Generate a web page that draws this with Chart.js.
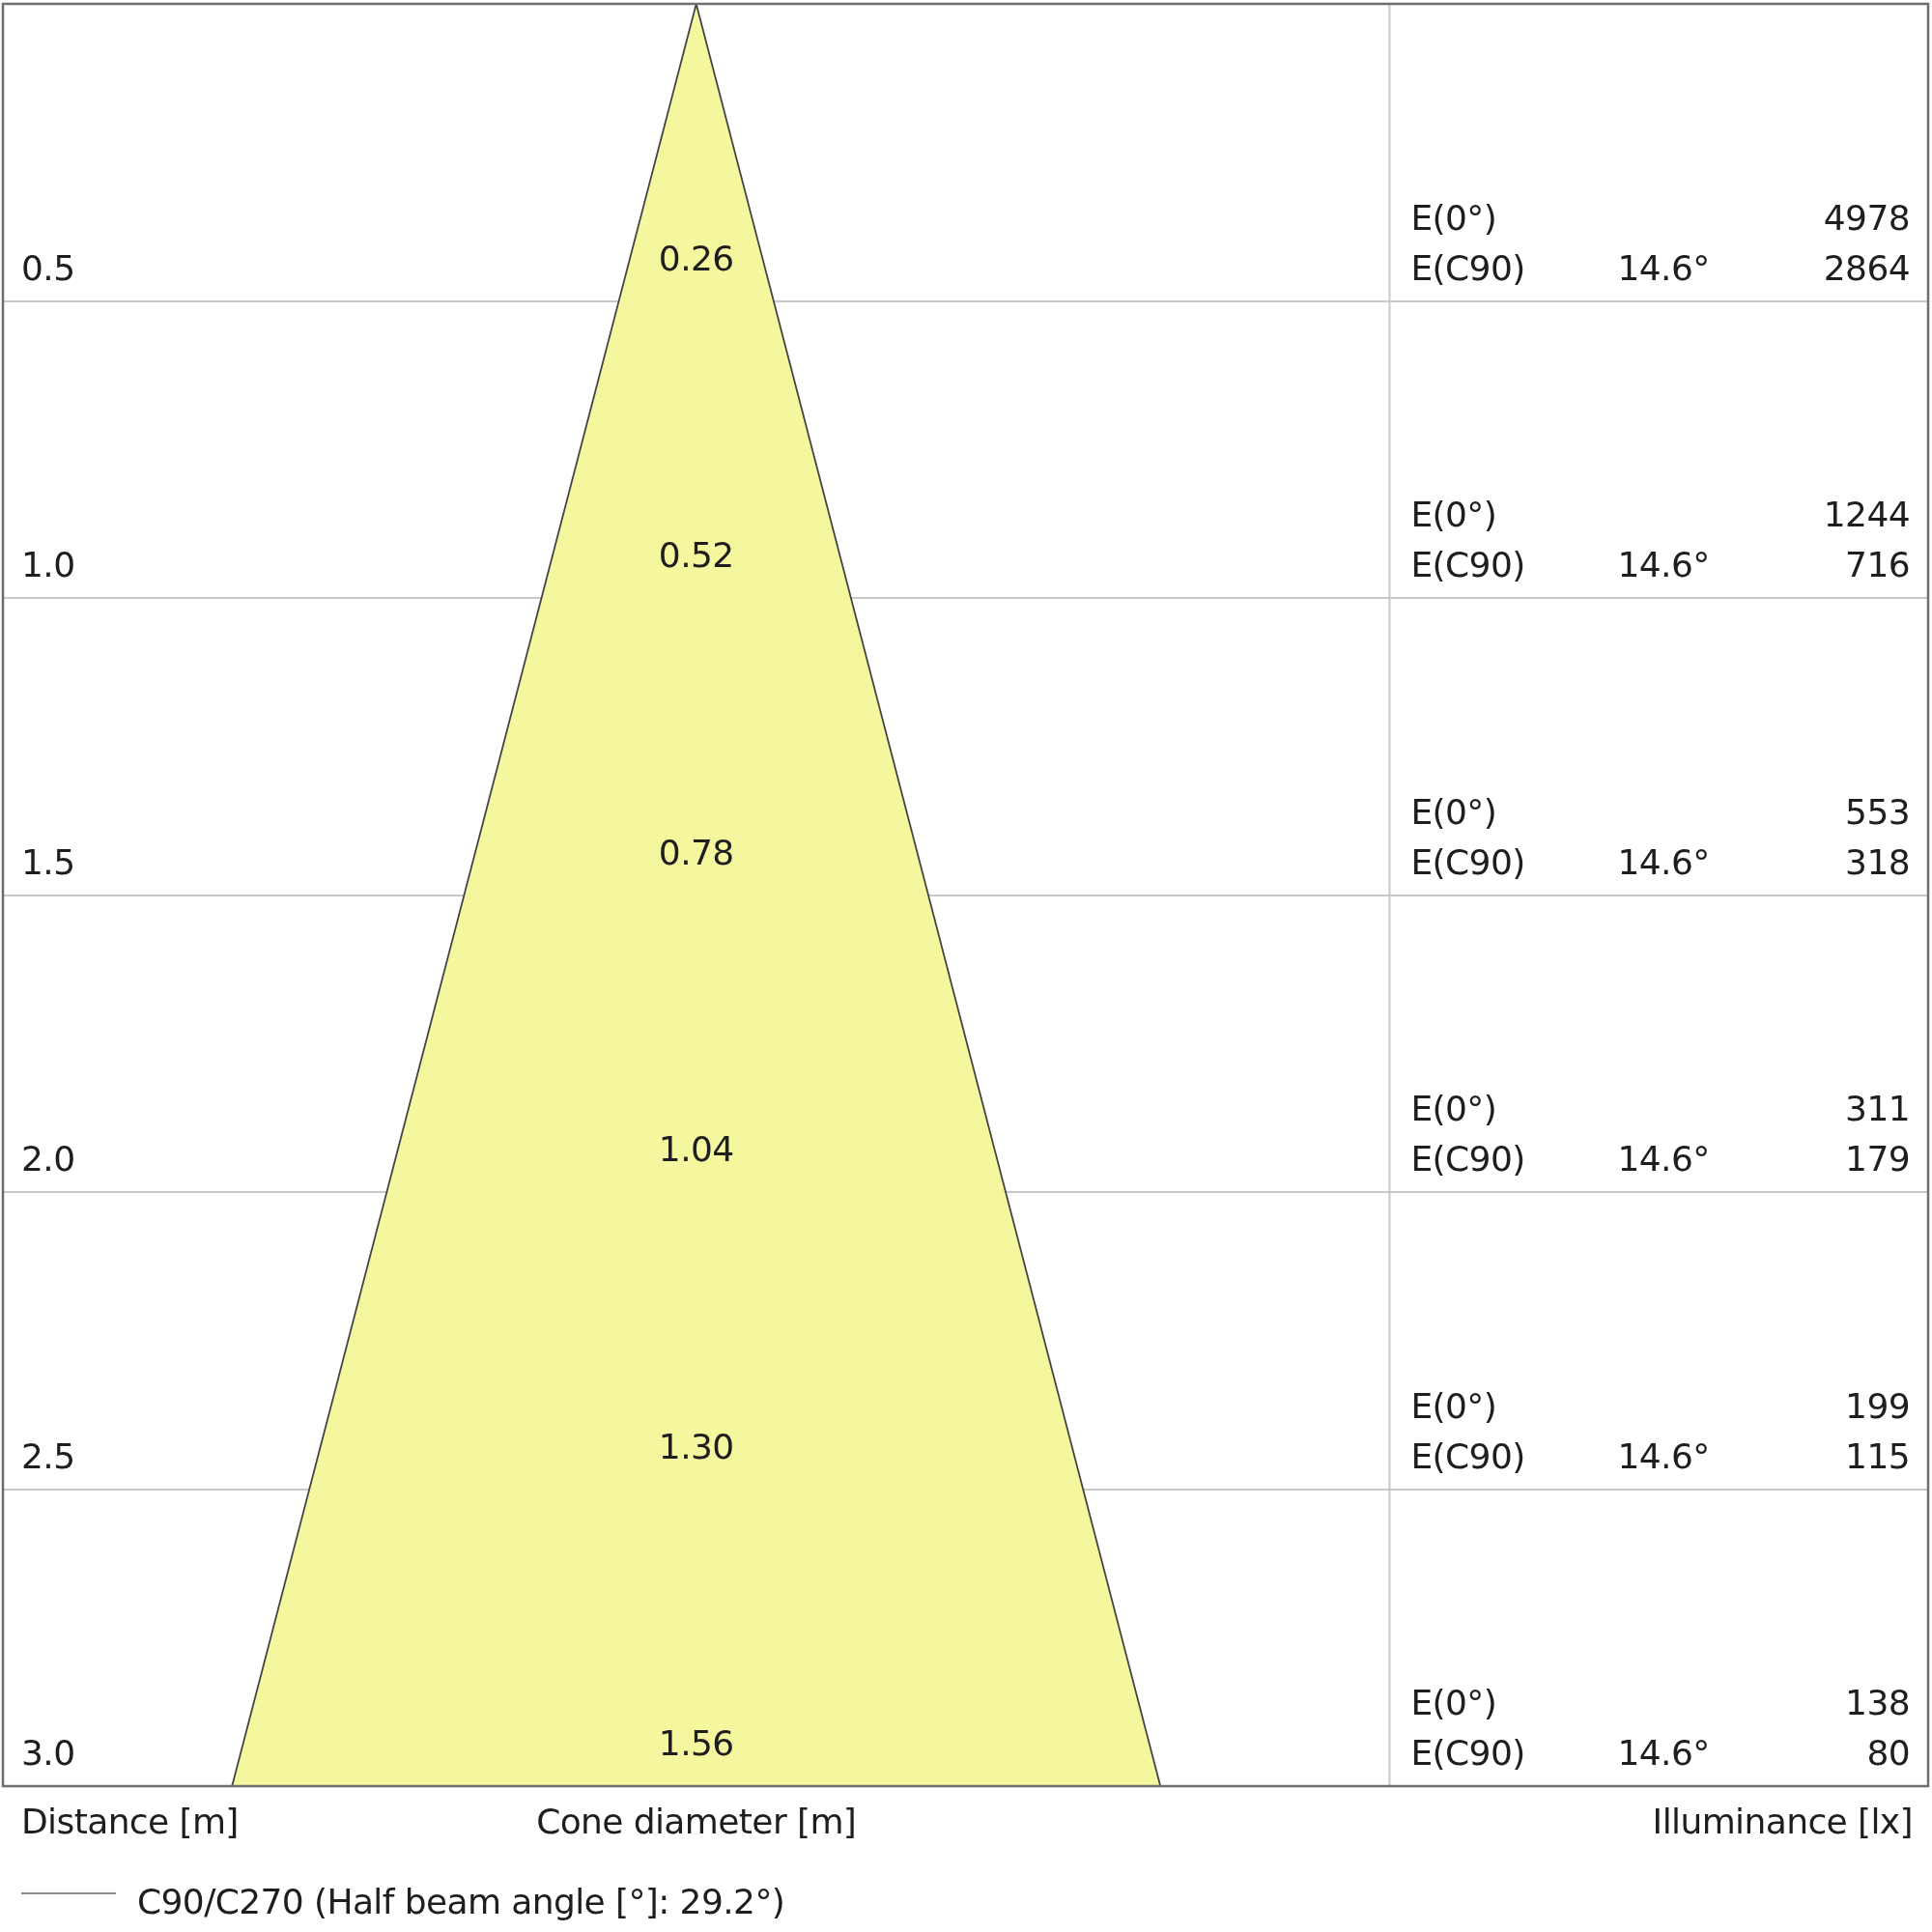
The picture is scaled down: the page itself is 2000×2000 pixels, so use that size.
<!DOCTYPE html>
<html>
<head>
<meta charset="utf-8">
<script src="https://cdn.jsdelivr.net/npm/chart.js@4.4.1/dist/chart.umd.min.js"></script>
<style>
  html, body { margin: 0; padding: 0; background: #fff; }
  canvas { display: block; }
</style>
</head>
<body>
<canvas id="coneChart" width="2000" height="2000"></canvas>
<script>
// ---- Data ----
const distances = [0.5, 1.0, 1.5, 2.0, 2.5, 3.0];
const distanceLabels = ['0.5', '1.0', '1.5', '2.0', '2.5', '3.0'];
const coneDiameters = [0.26, 0.52, 0.78, 1.04, 1.30, 1.56];
const coneLabels = ['0.26', '0.52', '0.78', '1.04', '1.30', '1.56'];
const illumCenter = [4978, 1244, 553, 311, 199, 138];
const illumC90 = [2864, 716, 318, 179, 115, 80];
const halfAngles = ['14.6°', '14.6°', '14.6°', '14.6°', '14.6°', '14.6°'];
const columnTitles = ['Distance [m]', 'Cone diameter [m]', 'Illuminance [lx]'];
const legendText = 'C90/C270 (Half beam angle [°]: 29.2°)';

// ---- Layout / style ----
const FONT = '36px "DejaVu Sans"';
const TEXT = '#1e1e1e';
const X_MIN = -1.165, X_MAX = 2.07, TABLE_X = 1.165;

// cone outline: edge at max distance, apex at 0, other edge
const maxD = distances[distances.length - 1];
const maxDia = coneDiameters[coneDiameters.length - 1];
const conePoints = [
  {x: -maxDia / 2, y: maxD},
  {x: 0, y: 0},
  {x: maxDia / 2, y: maxD}
];

// ---- Plugin for frame, table and labels ----
const conePlugin = {
  id: 'coneTable',
  afterDraw(chart) {
    const {ctx, chartArea: a, scales: {x, y}} = chart;
    const divX = x.getPixelForValue(TABLE_X);
    ctx.save();

    // divider between cone and table
    ctx.strokeStyle = '#c8c8c8';
    ctx.lineWidth = 2;
    ctx.beginPath();
    ctx.moveTo(divX, a.top);
    ctx.lineTo(divX, a.bottom);
    ctx.stroke();

    // outer frame
    ctx.strokeStyle = '#6e6e6e';
    ctx.lineWidth = 2.5;
    ctx.strokeRect(a.left, a.top, a.right - a.left, a.bottom - a.top);

    ctx.font = FONT;
    ctx.letterSpacing = '-0.6px';
    ctx.fillStyle = TEXT;
    ctx.textBaseline = 'middle';
    const cx = x.getPixelForValue(0);

    distances.forEach((d, i) => {
      const py = y.getPixelForValue(d);
      ctx.textAlign = 'left';
      ctx.fillText(distanceLabels[i], a.left + 19, py - 31);
      ctx.textAlign = 'center';
      ctx.fillText(coneLabels[i], cx, py - 41);
      ctx.textAlign = 'left';
      ctx.fillText('E(0°)', divX + 22, py - 83);
      ctx.fillText('E(C90)', divX + 22, py - 31);
      ctx.fillText(halfAngles[i], divX + 236, py - 31);
      ctx.textAlign = 'right';
      ctx.fillText(String(illumCenter[i]), a.right - 19, py - 83);
      ctx.fillText(String(illumC90[i]), a.right - 19, py - 31);
    });

    // column titles under the frame
    const ty = a.bottom + 40;
    ctx.textAlign = 'left';
    ctx.fillText(columnTitles[0], a.left + 19, ty);
    ctx.textAlign = 'center';
    ctx.fillText(columnTitles[1], cx, ty);
    ctx.textAlign = 'right';
    ctx.fillText(columnTitles[2], a.right - 16, ty);

    // legend
    const ly = a.bottom + 117;
    ctx.strokeStyle = '#8a8a8a';
    ctx.lineWidth = 2;
    ctx.beginPath();
    ctx.moveTo(a.left + 19, ly - 6);
    ctx.lineTo(a.left + 117, ly - 6);
    ctx.stroke();
    ctx.textAlign = 'left';
    ctx.fillText(legendText, a.left + 139, ly + 6);

    ctx.restore();
  }
};

// ---- Chart ----
const chart = new Chart(document.getElementById('coneChart'), {
  type: 'line',
  data: {
    datasets: [{
      label: legendText,
      data: conePoints,
      borderColor: '#454545',
      borderWidth: 1.8,
      backgroundColor: '#f4f79e',
      fill: {value: maxD},
      tension: 0,
      pointRadius: 0
    }]
  },
  options: {
    responsive: false,
    animation: false,
    devicePixelRatio: 1,
    layout: {padding: {left: 3, top: 4, right: 4, bottom: 151}},
    plugins: {legend: {display: false}, tooltip: {enabled: false}},
    scales: {
      x: {type: 'linear', min: X_MIN, max: X_MAX, display: false},
      y: {
        type: 'linear',
        reverse: true,
        min: 0,
        max: maxD,
        z: 1,
        afterBuildTicks: s => { s.ticks = distances.map(v => ({value: v})); },
        ticks: {display: false},
        border: {display: false},
        grid: {color: '#c8c8c8', lineWidth: 2, drawTicks: false}
      }
    }
  },
  plugins: [conePlugin]
});
</script>
</body>
</html>
